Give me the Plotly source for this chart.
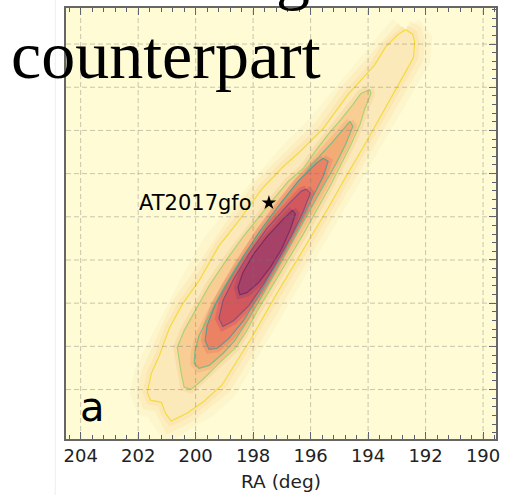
import plotly.graph_objects as go

# ---------------- data (RA, Dec in degrees) ----------------
# credible-region contours, outermost first
C1_RA = [192.70,192.45,192.38,192.42,192.73,193.08,193.49,194.11,194.80,195.39,196.43,197.22,198.05,199.09,199.71,200.29,200.85,201.05,201.19,201.57,201.68,201.54,201.26,200.92,200.47,199.88,199.19,198.50,197.70,196.94,196.43,195.56,194.70,193.77,193.39,192.97]
C1_DEC = [-15.34,-15.53,-15.90,-16.63,-17.37,-18.20,-19.12,-20.64,-22.21,-23.59,-25.90,-27.65,-29.59,-31.80,-32.54,-33.09,-33.46,-33.09,-32.59,-32.49,-32.12,-31.25,-30.42,-29.17,-28.07,-26.96,-25.35,-24.19,-22.72,-21.66,-21.06,-19.91,-18.34,-16.96,-16.13,-15.57]

C2_RA = [193.94,193.90,194.11,194.28,194.59,194.94,195.29,195.67,196.25,196.77,197.29,197.81,198.22,198.60,199.19,199.78,200.16,200.40,200.50,200.64,200.40,200.02,199.53,198.95,198.33,197.63,196.77,196.25,195.84,195.39,194.94,194.53,194.25]
C2_DEC = [-18.11,-18.29,-18.98,-19.72,-20.64,-21.57,-22.49,-23.41,-24.79,-25.95,-27.10,-28.25,-29.27,-30.05,-30.79,-31.57,-31.99,-31.89,-31.25,-30.05,-29.27,-28.34,-27.19,-26.04,-24.89,-23.73,-22.35,-21.75,-20.97,-20.18,-19.49,-18.80,-18.29]

C3_RA = [194.63,194.53,194.77,195.11,195.56,196.08,196.60,197.12,197.63,198.15,198.64,199.05,199.53,199.88,200.05,200.02,199.88,199.53,199.12,198.57,197.98,197.29,196.60,195.91,195.22,194.80]
C3_DEC = [-19.58,-19.81,-20.60,-21.52,-22.58,-23.83,-25.02,-26.27,-27.51,-28.71,-29.73,-30.33,-30.88,-31.02,-30.79,-30.19,-29.50,-28.57,-27.51,-26.27,-25.12,-23.83,-22.67,-21.52,-20.51,-19.81]

C4_RA = [195.56,195.39,195.56,195.91,196.36,196.84,197.32,197.81,198.33,198.84,199.26,199.53,199.67,199.60,199.33,198.91,198.39,197.81,197.12,196.43,195.80]
C4_DEC = [-21.29,-21.43,-22.12,-23.04,-24.19,-25.35,-26.50,-27.65,-28.80,-29.63,-30.10,-30.14,-29.73,-29.04,-28.11,-27.10,-25.95,-24.75,-23.50,-22.35,-21.52]

C5_RA = [196.15,196.01,196.25,196.67,197.12,197.63,198.15,198.67,199.05,199.19,199.05,198.67,198.15,197.53,196.77,196.32]
C5_DEC = [-22.72,-22.90,-23.73,-24.89,-25.95,-27.10,-28.11,-28.80,-29.08,-28.71,-27.88,-26.87,-25.72,-24.56,-23.41,-22.81]

C6_RA = [196.63,196.53,196.70,197.01,197.39,197.81,198.22,198.46,198.53,198.36,197.98,197.53,197.01]
C6_DEC = [-23.69,-23.87,-24.56,-25.49,-26.32,-27.05,-27.51,-27.61,-27.28,-26.59,-25.72,-24.94,-24.19]

STAR_RA = 197.45
STAR_DEC = -23.35
STAR_LABEL = "AT2017gfo"

RA_RANGE = [204.51, 189.55]
DEC_RANGE = [-34.29, -14.33]
RA_TICKS = [204, 202, 200, 198, 196, 194, 192, 190]
DEC_GRID = [-32, -30, -28, -26, -24, -22, -20, -18, -16]

# ---------------- styles ----------------
CONTOURS = [(C1_RA, C1_DEC), (C2_RA, C2_DEC), (C3_RA, C3_DEC),
            (C4_RA, C4_DEC), (C5_RA, C5_DEC), (C6_RA, C6_DEC)]
FILLS = [(251, 233, 186), (248, 206, 148), (244, 172, 118),
         (236, 130, 100), (210, 88, 94), (166, 66, 104)]
LINES = ["#f5db3c", "#a9d46e", "#7dbd80", "#639a8c", "#8a4f7c", "#7e2c62"]
GRID_LINE = dict(color="rgba(120,120,112,0.40)", width=1, dash="5px,3px")


def closed(v):
    return list(v) + [v[0]]


fig = go.Figure()

# soft halo around the outer region
for w, a in [(34, 0.10), (20, 0.18), (9, 0.25)]:
    fig.add_trace(go.Scatter(x=closed(C1_RA), y=closed(C1_DEC), mode="lines",
                             line=dict(color="rgba(250,205,130,%.2f)" % a, width=w),
                             hoverinfo="skip"))

for (ra, dec), f in zip(CONTOURS, FILLS):
    fig.add_trace(go.Scatter(x=closed(ra), y=closed(dec), mode="lines",
                             fill="toself",
                             fillcolor="rgb(%d,%d,%d)" % f,
                             line=dict(width=0), hoverinfo="skip"))
    fig.add_trace(go.Scatter(x=closed(ra), y=closed(dec), mode="lines",
                             line=dict(color="rgba(%d,%d,%d,0.45)" % f, width=8),
                             hoverinfo="skip"))

for (ra, dec), c in zip(CONTOURS, LINES):
    fig.add_trace(go.Scatter(x=closed(ra), y=closed(dec), mode="lines",
                             line=dict(color=c, width=1.2), hoverinfo="skip"))

fig.add_trace(go.Scatter(x=[STAR_RA], y=[STAR_DEC], mode="markers",
                         marker=dict(symbol="star", size=11, color="black"),
                         hoverinfo="skip"))

# dashed coordinate grid drawn over the map
for ra in RA_TICKS:
    fig.add_shape(type="line", xref="x", yref="paper", x0=ra, x1=ra, y0=0, y1=1,
                  line=GRID_LINE, layer="above")
for dec in DEC_GRID:
    fig.add_shape(type="line", xref="paper", yref="y", x0=0, x1=1, y0=dec, y1=dec,
                  line=GRID_LINE, layer="above")

fig.add_annotation(x=STAR_RA, y=STAR_DEC, text=STAR_LABEL, showarrow=False,
                   xanchor="right", yanchor="middle", xshift=-15,
                   font=dict(family="DejaVu Sans", size=21, color="black"))

fig.add_annotation(xref="paper", yref="paper", x=0.062, y=0.074, text="a",
                   showarrow=False, xanchor="center", yanchor="middle",
                   font=dict(family="DejaVu Sans", size=40, color="black"))

fig.add_annotation(xref="paper", yref="paper", x=-0.133, y=0.89,
                   text="counterpart", showarrow=False,
                   xanchor="left", yanchor="middle",
                   font=dict(family="Liberation Serif", size=68, color="black"))

fig.add_annotation(xref="paper", yref="paper", x=0.527, y=1.079,
                   text="g", showarrow=False,
                   xanchor="center", yanchor="middle",
                   font=dict(family="Liberation Serif", size=68, color="black"))

fig.add_shape(type="line", xref="paper", yref="paper",
              x0=-0.025, x1=-0.025, y0=-0.13, y1=1.02,
              line=dict(color="#ededed", width=1))

axis_common = dict(showline=True, linecolor="#666666", linewidth=1.5,
                   ticks="inside", tickcolor="#5a6070", tickwidth=1.2, ticklen=7,
                   showgrid=False, zeroline=False)

fig.update_xaxes(range=RA_RANGE, tickmode="array", tickvals=RA_TICKS,
                 mirror="ticks",
                 minor=dict(ticks="inside", ticklen=4, dtick=0.4, tick0=190,
                            tickcolor="#5a6070", tickwidth=1, showgrid=False),
                 tickfont=dict(family="DejaVu Sans", size=18, color="#222222"),
                 title=dict(text="RA (deg)",
                            font=dict(family="DejaVu Sans", size=18.5, color="#222222"),
                            standoff=10),
                 **axis_common)

fig.update_yaxes(range=DEC_RANGE, tickmode="array", tickvals=DEC_GRID,
                 side="right", mirror=True, showticklabels=False,
                 minor=dict(ticks="inside", ticklen=4, dtick=0.4, tick0=-24,
                            tickcolor="#5a6070", tickwidth=1, showgrid=False),
                 **axis_common)

fig.update_layout(width=506, height=495,
                  margin=dict(l=66, r=7, t=6, b=56),
                  paper_bgcolor="white", plot_bgcolor="#fefbd5",
                  showlegend=False)

fig.write_html("out.html", config={"displayModeBar": False},
               post_script="document.body.style.margin='0';"
                           "document.body.style.overflow='hidden';")
